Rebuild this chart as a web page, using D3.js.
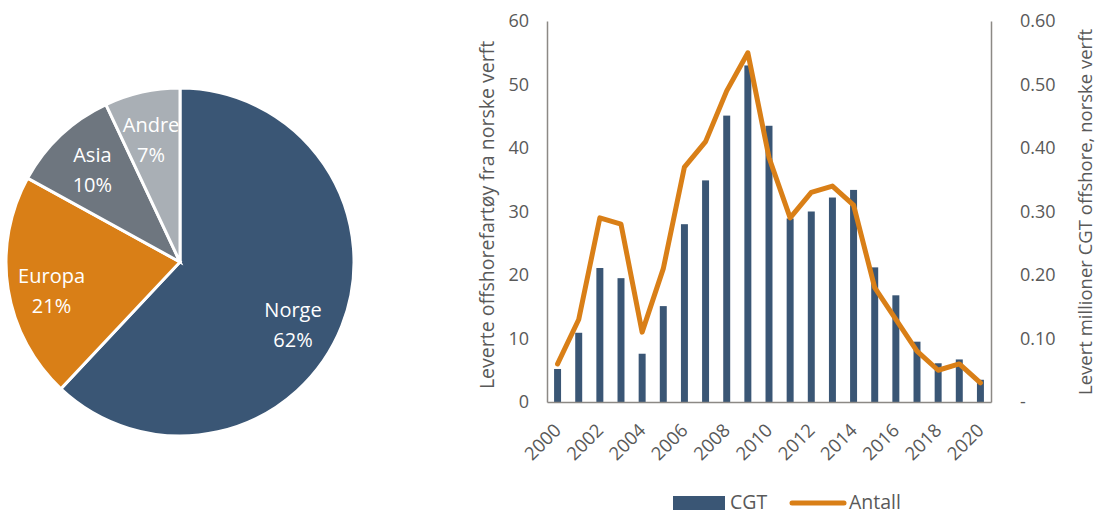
<!DOCTYPE html>
<html>
<head>
<meta charset="utf-8">
<script src="https://d3js.org/d3.v7.min.js"></script>
<style>
  body { margin: 0; background: #fff; }
  svg text { font-family: "Open Sans", sans-serif; }
</style>
</head>
<body>
<svg id="chart" width="1097" height="513"></svg>
<script>
// pie data
var regions = ["Norge", "Europa", "Asia", "Andre"];
var shares = [62, 21, 10, 7];
var pieColors = ["#3a5675", "#d97f17", "#6e767f", "#a9afb5"];

// bar + line data
var years = d3.range(2000, 2021);
var cgt = [0.052, 0.109, 0.211, 0.195, 0.076, 0.151, 0.280, 0.349, 0.451, 0.530, 0.435,
           0.289, 0.300, 0.322, 0.334, 0.212, 0.168, 0.095, 0.061, 0.067, 0.035];
var antall = [6, 13, 29, 28, 11, 21, 37, 41, 49, 55, 38.5, 29, 33, 34, 31, 18, 13, 8, 5, 6, 3];
var leftTicks = [0, 10, 20, 30, 40, 50, 60];
var rightTicks = [0, 0.1, 0.2, 0.3, 0.4, 0.5, 0.6];

var svg = d3.select("#chart");
var textCol = "#595959";

// ---- pie ----
var cx = 180, cy = 262, r = 174;
var pie = d3.pie().sort(null).value(function(d) { return d; });
var arc = d3.arc().innerRadius(0).outerRadius(r);
var labelArc = d3.arc().innerRadius(2 * 128 - r).outerRadius(r);
// small hand nudges so labels sit where excel put them
var nudge = [[-6, 11], [-2, 4], [0, -4], [-1, -2]];

var pg = svg.append("g").attr("transform", "translate(" + cx + "," + cy + ")");
var slices = pie(shares);

pg.selectAll("path").data(slices).enter().append("path")
  .attr("d", arc)
  .attr("fill", function(d, i) { return pieColors[i]; })
  .attr("stroke", "#fff")
  .attr("stroke-width", 3);

var lbl = pg.selectAll("text.lbl").data(slices).enter().append("text")
  .attr("class", "lbl")
  .attr("transform", function(d, i) {
    var c = labelArc.centroid(d);
    return "translate(" + (c[0] + nudge[i][0]) + "," + (c[1] + nudge[i][1]) + ")";
  })
  .attr("text-anchor", "middle")
  .attr("fill", "#fff")
  .style("font-size", "20px");
lbl.append("tspan").attr("x", 0).attr("dy", "-0.15em").text(function(d, i) { return regions[i]; });
lbl.append("tspan").attr("x", 0).attr("dy", "1.5em").text(function(d) { return d.data + "%"; });

// ---- combo chart ----
var plotL = 547, plotR = 991, plotT = 21, plotB = 402;

var x = d3.scaleBand().domain(years).range([plotL, plotR]).paddingInner(0.67).paddingOuter(0.335);
var xc = function(yr) { return x(yr) + x.bandwidth() / 2; };
var yL = d3.scaleLinear().domain([0, 60]).range([plotB, plotT]);
var yR = d3.scaleLinear().domain([0, 0.6]).range([plotB, plotT]);

svg.append("g").selectAll("rect").data(years).enter().append("rect")
  .attr("x", function(d) { return x(d); })
  .attr("width", x.bandwidth())
  .attr("y", function(d, i) { return yR(cgt[i]); })
  .attr("height", function(d, i) { return plotB - yR(cgt[i]); })
  .attr("fill", "#3a5675");

var line = d3.line()
  .x(function(d, i) { return xc(years[i]); })
  .y(function(d) { return yL(d); });

svg.append("path").datum(antall)
  .attr("d", line)
  .attr("fill", "none")
  .attr("stroke", "#d97f17")
  .attr("stroke-width", 5)
  .attr("stroke-linejoin", "round")
  .attr("stroke-linecap", "round");

// axes
var axisCol = "#8c8985";
var axL = svg.append("g").attr("transform", "translate(" + plotL + ",0)")
  .call(d3.axisLeft(yL).tickValues(leftTicks).tickSize(0).tickPadding(18));
var axR = svg.append("g").attr("transform", "translate(" + plotR + ",0)")
  .call(d3.axisRight(yR).tickValues(rightTicks).tickSize(0).tickPadding(29)
    .tickFormat(function(d) { return d === 0 ? "-" : d3.format(".2f")(d); }));
var axB = svg.append("g").attr("transform", "translate(0," + plotB + ")")
  .call(d3.axisBottom(x).tickValues(years.filter(function(d) { return d % 2 === 0; })).tickSize(0));

[axL, axR, axB].forEach(function(a) {
  a.select(".domain").attr("stroke", axisCol).attr("stroke-width", 1.5);
  a.selectAll("text").attr("fill", textCol).style("font-size", "18px").style("font-family", "Open Sans");
});
axB.selectAll("text")
  .style("font-size", "18.5px")
  .attr("text-anchor", "end")
  .attr("dy", "0.35em")
  .attr("transform", "translate(0,25) rotate(-45)")
  .attr("y", 0).attr("x", 0);
axB.selectAll(".tick").attr("transform", function(d) { return "translate(" + xc(d) + ",0)"; });

// axis titles
svg.append("text")
  .attr("transform", "translate(494,215) rotate(-90)")
  .attr("text-anchor", "middle")
  .attr("fill", textCol)
  .style("font-size", "19.5px")
  .text("Leverte offshorefartøy fra norske verft");

svg.append("text")
  .attr("transform", "translate(1092,212) rotate(-90)")
  .attr("text-anchor", "middle")
  .attr("fill", textCol)
  .style("font-size", "18.5px")
  .text("Levert millioner CGT offshore, norske verft");

// legend
var lg = svg.append("g");
lg.append("rect").attr("x", 673).attr("y", 496).attr("width", 52).attr("height", 14).attr("fill", "#3a5675");
lg.append("text").attr("x", 730).attr("y", 509).attr("fill", textCol).style("font-size", "19.5px").text("CGT");
lg.append("line").attr("x1", 792).attr("x2", 844).attr("y1", 503).attr("y2", 503)
  .attr("stroke", "#d97f17").attr("stroke-width", 5).attr("stroke-linecap", "round");
lg.append("text").attr("x", 849).attr("y", 509).attr("fill", textCol).style("font-size", "19.5px").text("Antall");
</script>
</body>
</html>
